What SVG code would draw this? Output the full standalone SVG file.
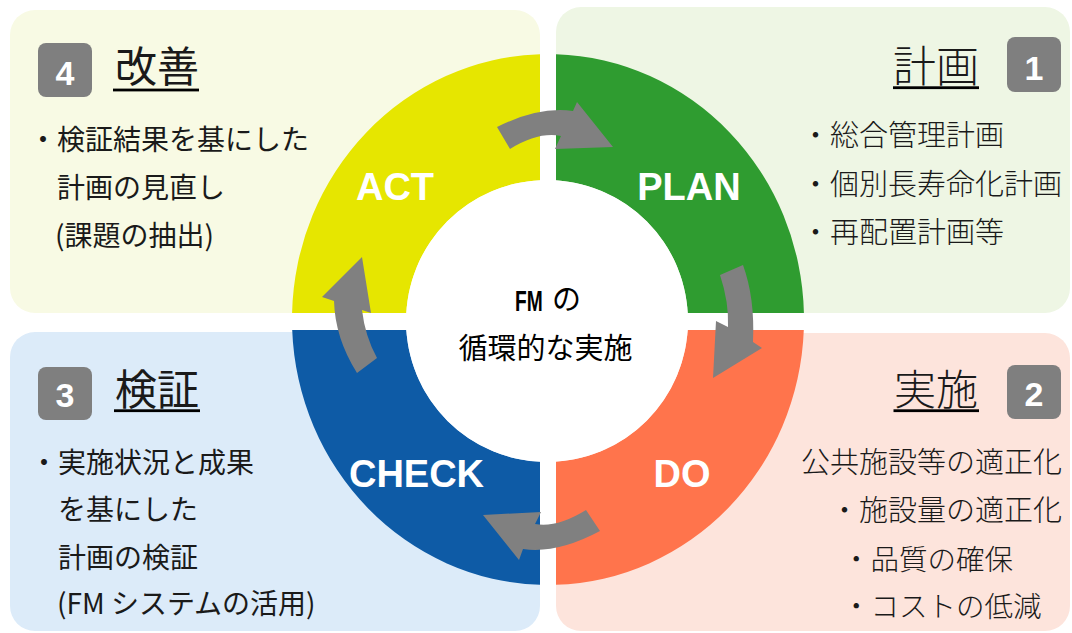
<svg xmlns="http://www.w3.org/2000/svg" width="1072" height="633" viewBox="0 0 1072 633">
<style>
  .jp { font-family: "Noto Sans CJK JP", "Noto Sans", sans-serif; fill: #1a1a1a; }
  .body { font-size: 28px; }
  .bodyR { font-size: 29px; font-weight: 300; }
  .titleR { font-weight: 300; }
  .title { font-size: 42px; }
  .ul { fill: #000; }
  .badge { fill: #7f7f7f; }
  .num { font-family: "Liberation Sans", Arial, sans-serif; font-weight: bold; font-size: 34px; fill: #fff; text-anchor: middle; }
  .ring-label { font-family: "Liberation Sans", Arial, sans-serif; font-weight: bold; font-size: 38px; fill: #fff; text-anchor: middle; }
  .arrow { fill: #808080; }
</style>
<rect width="1072" height="633" fill="#ffffff"/>

<g id="node-act">
  <rect x="10" y="10" width="530" height="303" rx="25" fill="#f8fae4"/>
  <path d="M 540,54.13 A 256 265.5 0 0 0 292.08,313 L 406.23,313 A 141 141 0 0 1 540,180.17 Z" fill="#e6e600"/>
  <text class="ring-label" x="395" y="200">ACT</text>
  <rect class="badge" x="38" y="43" width="54" height="54" rx="8"/>
  <text class="num" x="65" y="85">4</text>
  <text class="jp title" x="115" y="82">改善</text>
  <rect class="ul" x="113" y="88.6" width="86" height="2.8"/>
  <text class="jp body" x="29" y="150">・検証結果を基にした</text>
  <text class="jp body" x="57" y="198">計画の見直し</text>
  <text class="jp body" x="55" y="246">(課題の抽出)</text>
</g>

<g id="node-plan">
  <rect x="556" y="7" width="514" height="306" rx="25" fill="#eef6e4"/>
  <path d="M 556,54.13 A 256 265.5 0 0 1 803.92,313 L 687.77,313 A 141 141 0 0 0 556,180.29 Z" fill="#2f9c30"/>
  <text class="ring-label" x="689" y="200">PLAN</text>
  <rect class="badge" x="1007" y="37" width="54" height="55" rx="8"/>
  <text class="num" x="1034" y="80">1</text>
  <text class="jp title titleR" x="893" y="82" style="font-size:43px">計画</text>
  <rect class="ul" x="893" y="86.3" width="86" height="2.8"/>
  <text class="jp bodyR" x="801" y="146">・総合管理計画</text>
  <text class="jp bodyR" x="801" y="195">・個別長寿命化計画</text>
  <text class="jp bodyR" x="801" y="243">・再配置計画等</text>
</g>

<g id="node-check">
  <rect x="10" y="332" width="530" height="299" rx="25" fill="#dcebf9"/>
  <path d="M 292.2,330 A 256 265.5 0 0 0 540,584.87 L 540,461.83 A 141 141 0 0 1 406.29,330 Z" fill="#0e5ba6"/>
  <text class="ring-label" x="416.5" y="486.5">CHECK</text>
  <rect class="badge" x="38" y="367" width="54" height="53" rx="8"/>
  <text class="num" x="65" y="407">3</text>
  <text class="jp title" x="115" y="405">検証</text>
  <rect class="ul" x="114" y="409.3" width="86" height="2.8"/>
  <text class="jp body" x="30" y="473">・実施状況と成果</text>
  <text class="jp body" x="58" y="519.5">を基にした</text>
  <text class="jp body" x="58" y="568">計画の検証</text>
  <text class="jp body" x="57" y="614">(FM システムの活用)</text>
</g>

<g id="node-do">
  <rect x="556" y="333" width="514" height="298" rx="25" fill="#fde4dc"/>
  <path d="M 803.8,330 A 256 265.5 0 0 1 556,584.87 L 556,461.71 A 141 141 0 0 0 687.71,330 Z" fill="#ff744c"/>
  <text class="ring-label" x="682" y="486.5">DO</text>
  <rect class="badge" x="1007" y="365" width="54" height="54" rx="8"/>
  <text class="num" x="1034" y="406">2</text>
  <text class="jp title titleR" x="894" y="405">実施</text>
  <rect class="ul" x="893.5" y="409.3" width="85.5" height="2.8"/>
  <text class="jp bodyR" x="801" y="473">公共施設等の適正化</text>
  <text class="jp bodyR" x="830" y="521">・施設量の適正化</text>
  <text class="jp bodyR" x="842" y="569.5" style="font-size:28.5px">・品質の確保</text>
  <text class="jp bodyR" x="842" y="617" style="font-size:28.5px">・コストの低減</text>
</g>

<g id="node-center">
  <circle cx="547" cy="321" r="141" fill="#ffffff"/>
  <text transform="translate(515,311) scale(0.64,1)" x="0" y="0" style="font-family:'Liberation Sans', Arial, sans-serif; font-weight:bold; font-size:30px; fill:#000">FM</text>
  <text class="jp" x="552" y="310" style="font-size:29px; fill:#000">の</text>
  <text class="jp" x="545.5" y="359" text-anchor="middle" style="font-size:29px; fill:#000">循環的な実施</text>
</g>

<g id="connectors">
  <path class="arrow" d="M 497,127 Q 539,106 573,111 L 577,102 L 613,147 L 555,149 L 561,136 Q 538.5,131.5 510,149 Z"/>
  <path class="arrow" d="M 720,275 Q 729,302 728,327 L 716,321 L 713,378 L 762,348 L 753,342 Q 755,298 743,265 Z"/>
  <path class="arrow" d="M 600,531 Q 557,554 523,549 L 519,560 L 483,515 L 541,512 L 535,524 Q 557,528 586,510 Z"/>
  <path class="arrow" d="M 357,373 Q 335,338 334,301 L 322,297 L 362,257 L 371,313 L 362,310 Q 365,336 377,358 Z"/>
</g>
</svg>
